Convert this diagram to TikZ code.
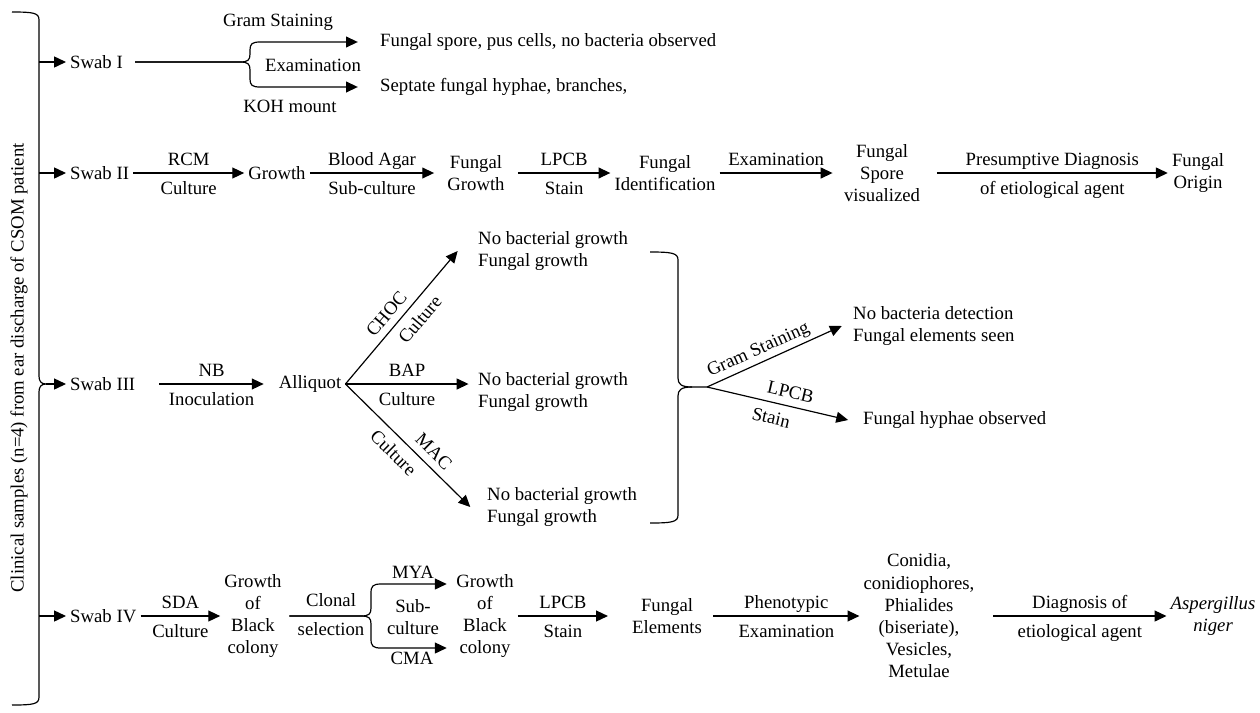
\documentclass[tikz,border=0pt]{standalone}
\usepackage{fontspec}
\setmainfont{Liberation Serif}
\usetikzlibrary{arrows.meta,positioning}

\tikzset{
  box/.style={inner sep=2pt, align=center},
  lbox/.style={inner sep=2pt, align=left, anchor=west},
  arr/.style={-{Triangle[length=6.5pt,width=6pt]}},
  lab/.style={inner sep=2pt, text height=7pt, text depth=2pt},
  labup/.style={lab, above},
  labdn/.style={lab, below=2.5pt},
}

\begin{document}
\begin{tikzpicture}[x=0.55pt, y=-0.55pt, line width=0.65pt, font=\fontsize{10.3}{12.2}\selectfont]
\useasboundingbox (0,0) rectangle (1260,712);

% Draw the left brace
\draw (12,12) .. controls (34,12) and (39,13) .. (39,20) -- (39,376)
  .. controls (39,381) and (41,384) .. (46,384)
  .. controls (41,384) and (39,387) .. (39,392) -- (39,697)
  .. controls (39,704) and (34,705) .. (12,705);
\node[rotate=90] (clin) at (19,368) {Clinical samples (n=4) from ear discharge of CSOM patient};
\coordinate (b1) at (39,62);
\coordinate (b2) at (39,173);
\coordinate (b3) at (46,384);
\coordinate (b4) at (39,616);

% Swabs
\node[lbox] (s1) at (66,62) {Swab I};
\node[lbox] (s2) at (66,173) {Swab II};
\node[lbox] (s3) at (66,384) {Swab III};
\node[lbox] (s4) at (66,616) {Swab IV};
\foreach \n in {1,...,4}
  \draw[arr] (b\n) -- (s\n.west);

% Swab I
\node[lbox] (gs) at (376,42) {Fungal spore, pus cells, no bacteria observed};
\node[lbox] (sf) at (376,87) {Septate fungal hyphae, branches,};
\node (gst) at (278,22) {Gram Staining};
\node (exm) at (313,65) {Examination};
\node (koh) at (290,106) {KOH mount};
\draw[arr] ([xshift=4.5pt]s1.east) -- (240,62) .. controls (248,62) and (250,60) .. (250,54)
  -- (250,50) .. controls (250,44) and (252,42) .. (260,42) -- ([xshift=-10pt]gs.west);
\draw[arr] ([xshift=4.5pt]s1.east) -- (240,62) .. controls (248,62) and (250,64) .. (250,70)
  -- (250,79) .. controls (250,85) and (252,87) .. (260,87) -- ([xshift=-10pt]sf.west);

% Swab II
\node[box] (gr2) at (277,173) {Growth};
\node[box] (fg2) at (476,173) {Fungal\\Growth};
\node[box] (fid) at (665,173) {Fungal\\Identification};
\node[box] (fsv) at (882,173) {Fungal\\Spore\\visualized};
\node[box] (fo) at (1198,173) {Fungal\\Origin};
\draw[arr] (s2) -- (gr2) node[midway, labup] {RCM} node[midway, labdn] {Culture};
\draw[arr] (gr2) -- ([xshift=-5pt]fg2.west) node[midway, labup] {Blood Agar} node[midway, labdn] {Sub-culture};
\draw[arr] ([xshift=5pt]fg2.east) -- (fid) node[midway, labup] {LPCB} node[midway, labdn] {Stain};
\draw[arr] (fid) -- ([xshift=-4pt]fsv.west) node[midway, labup] {Examination};
\draw[arr] ([xshift=7pt]fsv.east) -- (fo) node[midway, labup] {Presumptive Diagnosis} node[midway, labdn] {of etiological agent};

% Swab III
\node[box] (al) at (310,384) {Alliquot};
\draw[arr] ([xshift=11pt]s3.east) -- ([xshift=-6pt]al.west) node[midway, labup] {NB} node[midway, labdn] {Inoculation};
\node[lbox] (ng1) at (474,251) {No bacterial growth\\Fungal growth};
\node[lbox] (ng2) at (474,392) {No bacterial growth\\Fungal growth};
\node[lbox] (ng3) at (483,507) {No bacterial growth\\Fungal growth};
\draw[arr] (al.east) -- ([xshift=-9pt]ng1.west) node[pos=0.46, labup, sloped] {CHOC} node[pos=0.56, labdn, sloped] {Culture};
\draw[arr] (al.east) -- ([xshift=-3pt]al.east -| ng2.west) node[midway, labup] {BAP} node[midway, labdn] {Culture};
\draw[arr] (al.east) -- ([xshift=-7pt]ng3.west) node[pos=0.63, labup, sloped] {MAC} node[pos=0.47, labdn, sloped] {Culture};

% Draw the right brace
\draw (650,252) .. controls (672,252) and (678,253) .. (678,260) -- (678,378)
  .. controls (678,384) and (681,387) .. (692,387) -- (707,387);
\draw (650,523) .. controls (672,523) and (678,522) .. (678,515) -- (678,396)
  .. controls (678,390) and (681,387) .. (692,387);
\coordinate (tp) at (707,387);
\node[lbox] (nb) at (849,326) {No bacteria detection\\Fungal elements seen};
\node[lbox] (fh) at (859,420) {Fungal hyphae observed};
\draw[arr] (tp) -- ([xshift=-4pt]nb.west) node[pos=0.42, labup, sloped] {Gram Staining};
\draw[arr] (tp) -- ([xshift=-6pt]fh.west) node[pos=0.57, labup, sloped] {LPCB} node[pos=0.48, labdn, sloped] {Stain};

% Swab IV
\node[box] (gb1) at (253,616) {Growth\\of\\Black\\colony};
\node[box] (gb2) at (485,616) {Growth\\of\\Black\\colony};
\draw[arr] (s4) -- (gb1) node[midway, labup] {SDA} node[midway, labdn] {Culture};
\node (cln) at (331,600) {Clonal};
\node (sel) at (331,629) {selection};
\node (mya) at (413,572) {MYA};
\node (cma) at (412,658) {CMA};
\node[box] (sub) at (413,617) {Sub-\\culture};
\draw[arr] ([xshift=2pt]gb1.east) -- (361,616) .. controls (369,616) and (371,614) .. (371,608)
  -- (371,593) .. controls (371,586) and (373,584) .. (381,584) -- ([xshift=-3pt,yshift=17.6pt]gb2.west);
\draw[arr] ([xshift=2pt]gb1.east) -- (361,616) .. controls (369,616) and (371,618) .. (371,624)
  -- (371,639) .. controls (371,646) and (373,648) .. (381,648) -- ([xshift=-3pt,yshift=-17.6pt]gb2.west);
\node[box] (fe) at (667,616) {Fungal\\Elements};
\node[box] (cv) at (919,616) {Conidia,\\conidiophores,\\Phialides\\(biseriate),\\Vesicles,\\Metulae};
\node[box, font=\fontsize{10.3}{12.2}\selectfont\itshape] (an) at (1213,616) {Aspergillus\\niger};
\draw[arr] (gb2) -- ([xshift=-11pt]fe.west) node[midway, labup] {LPCB} node[midway, labdn] {Stain};
\draw[arr] ([xshift=4pt]fe.east) -- (cv) node[midway, labup] {Phenotypic} node[midway, labdn] {Examination};
\draw[arr] ([xshift=8pt]cv.east) -- (an) node[midway, labup] {Diagnosis of} node[midway, labdn] {etiological agent};
\end{tikzpicture}
\end{document}
